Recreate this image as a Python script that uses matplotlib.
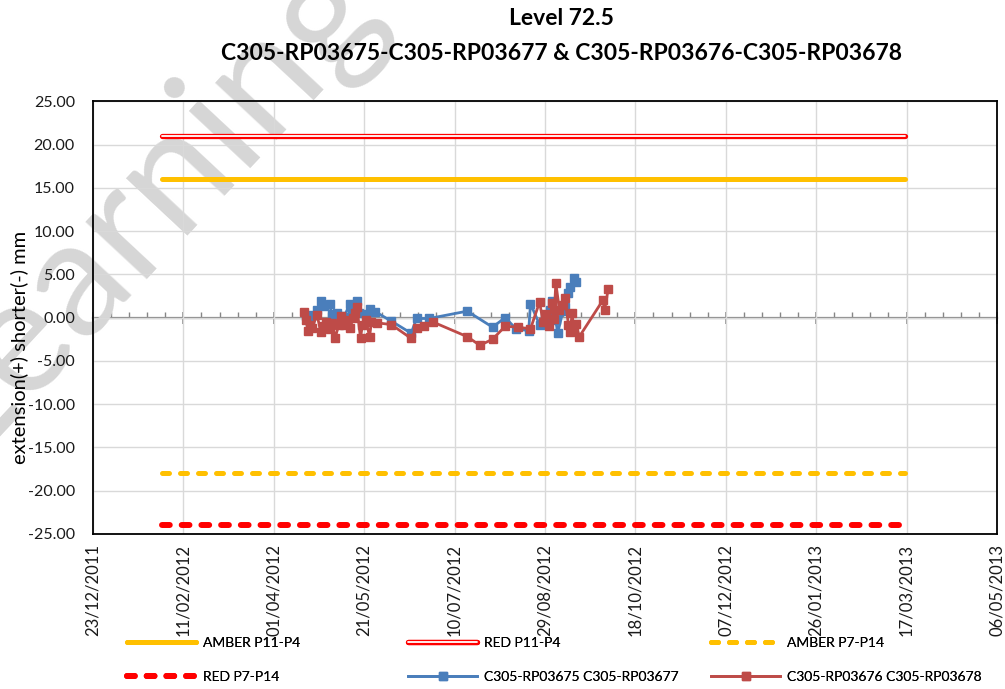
import numpy as np
import matplotlib
matplotlib.use('Agg')
import matplotlib.pyplot as plt
import matplotlib.dates as mdates
import matplotlib.patheffects as pe
from matplotlib.ticker import FixedLocator, NullFormatter, FormatStrFormatter

plt.rcParams['font.family'] = ['Lato', 'DejaVu Sans']

# threshold lines
limit_dates = ['2012-01-30', '2013-03-16']
amber_p11_p4 = [16, 16]
red_p11_p4 = [21, 21]
amber_p7_p14 = [-18, -18]
red_p7_p14 = [-24, -24]

# C305-RP03675 C305-RP03677
blue_dates = ['2012-04-19', '2012-04-21', '2012-04-22', '2012-04-25', '2012-04-27',
              '2012-04-29', '2012-05-02', '2012-05-03', '2012-05-06', '2012-05-08',
              '2012-05-10', '2012-05-13', '2012-05-14', '2012-05-17', '2012-05-18',
              '2012-05-22', '2012-05-24', '2012-05-27', '2012-06-05', '2012-06-16',
              '2012-06-19', '2012-06-26', '2012-07-17', '2012-07-31', '2012-08-07',
              '2012-08-13', '2012-08-20', '2012-08-21', '2012-08-26', '2012-08-29',
              '2012-09-01', '2012-09-02', '2012-09-04', '2012-09-05', '2012-09-08',
              '2012-09-09', '2012-09-11', '2012-09-12', '2012-09-14', '2012-09-15']
blue_vals = [0.2, -0.5, 0.3, 0.9, 1.9,
             1.4, 1.6, 0.4, 0.5, 0.2,
             0.1, 1.6, 0.9, 1.9, 0.5,
             0.4, 1.0, 0.7, -0.4, -1.8,
             -0.1, -0.1, 0.75, -1.1, 0.0,
             -1.3, -1.5, 1.6, -0.8, 0.3,
             0.9, 1.9, -0.3, -1.8, 0.8,
             1.2, 2.8, 3.5, 4.6, 4.1]

# C305-RP03676 C305-RP03678
red_dates = ['2012-04-18', '2012-04-19', '2012-04-20', '2012-04-21', '2012-04-22',
             '2012-04-25', '2012-04-27', '2012-04-28', '2012-04-30', '2012-05-02',
             '2012-05-03', '2012-05-05', '2012-05-07', '2012-05-08', '2012-05-10',
             '2012-05-11', '2012-05-13', '2012-05-15', '2012-05-16', '2012-05-17',
             '2012-05-19', '2012-05-20', '2012-05-22', '2012-05-24', '2012-05-25',
             '2012-05-28', '2012-06-05', '2012-06-16', '2012-06-19', '2012-06-23',
             '2012-06-28', '2012-07-17', '2012-07-24', '2012-07-31', '2012-08-07',
             '2012-08-14', '2012-08-21', '2012-08-26', '2012-08-28', '2012-08-29',
             '2012-08-31', '2012-09-02', '2012-09-03', '2012-09-04', '2012-09-06',
             '2012-09-08', '2012-09-09', '2012-09-11', '2012-09-12', '2012-09-13',
             '2012-09-14', '2012-09-15', '2012-09-17', '2012-09-30', '2012-10-01',
             '2012-10-03']
red_vals = [0.6, -0.3, -1.5, -0.8, -1.2,
            0.3, -1.7, -1.0, -0.5, -1.3,
            -0.6, -2.3, -0.8, 0.2, -0.9,
            -0.3, -1.2, -0.1, 0.5, 1.2,
            -2.4, -0.8, -0.3, -2.2, -0.5,
            -0.6, -0.8, -2.4, -1.2, -1.0,
            -0.5, -2.2, -3.2, -2.5, -1.0,
            -1.1, -1.3, 1.8, -0.5, 0.4,
            -1.0, 1.7, -0.2, 4.0, 0.9,
            1.5, 2.3, -0.8, -1.7, 0.5,
            -1.5, -0.7, -2.2, 2.0, 0.9,
            3.3]

x_start = mdates.date2num(np.datetime64('2011-12-23'))
x_end = mdates.date2num(np.datetime64('2013-05-06'))

fig = plt.figure(figsize=(10.05, 6.89), dpi=100)
ax = fig.add_axes([0.0925, 0.225, 0.8995, 0.628])

ld = np.array(limit_dates, dtype='datetime64[D]')
h_amber11, = ax.plot(ld, amber_p11_p4, color='#FFC000', lw=3.6, solid_capstyle='round',
                     label='AMBER P11-P4', zorder=3)
h_red11, = ax.plot(ld, red_p11_p4, color='white', lw=1.3, solid_capstyle='round',
                   label='RED P11-P4', zorder=3,
                   path_effects=[pe.Stroke(linewidth=3.8, foreground='#FF0000'), pe.Normal()])
h_amber7, = ax.plot(ld, amber_p7_p14, color='#FFC000', lw=3.6, dashes=(1.4, 2.2),
                    dash_capstyle='round', label='AMBER P7-P14', zorder=3)
h_red7, = ax.plot(ld, red_p7_p14, color='#FF0000', lw=4.3, dashes=(1.3, 2.0),
                  dash_capstyle='round', label='RED P7-P14', zorder=3)

h_blue, = ax.plot(np.array(blue_dates, dtype='datetime64[D]'), blue_vals, color='#4A7EBB',
                  lw=2.0, marker='s', ms=5.5, label='C305-RP03675 C305-RP03677', zorder=4)
h_brown, = ax.plot(np.array(red_dates, dtype='datetime64[D]'), red_vals, color='#BE4B48',
                   lw=2.0, marker='s', ms=5.5, label='C305-RP03676 C305-RP03678', zorder=5)

ax.set_xlim(x_start, x_end)
ax.set_ylim(-25, 25)
major = np.arange(x_start, x_end + 1, 50)
minor = np.arange(x_start, x_end + 1, 10)
ax.set_xticks(major)
ax.xaxis.set_major_formatter(mdates.DateFormatter('%d/%m/%Y'))
ax.set_yticks(np.arange(-25, 26, 5))
ax.yaxis.set_major_formatter(FormatStrFormatter('%.2f'))
ax.tick_params(axis='x', labelrotation=90, length=0, labelsize=12, pad=7, colors='#1a1a1a')
ax.tick_params(axis='y', length=0, labelsize=11.5, pad=13, colors='#1a1a1a')
ax.grid(True, color='#d9d9d9', lw=1)
ax.set_axisbelow('line')
for s in ax.spines.values():
    s.set_color('black')
    s.set_linewidth(1.3)

# zero axis with tick marks
zero_ax = ax.secondary_xaxis(0.5)
zero_ax.xaxis.set_major_locator(FixedLocator(major))
zero_ax.xaxis.set_minor_locator(FixedLocator(minor))
zero_ax.xaxis.set_major_formatter(NullFormatter())
zero_ax.xaxis.set_minor_formatter(NullFormatter())
zero_ax.spines['top'].set_color('#868686')
zero_ax.spines['top'].set_linewidth(1.6)
zero_ax.tick_params(which='major', direction='inout', length=9, width=1.2, color='#868686')
zero_ax.tick_params(which='minor', direction='out', length=4, width=1.0, color='#868686')

ax.set_ylabel('extension(+) shorter(-) mm', fontsize=14.5)
ax.yaxis.set_label_coords(-0.072, 0.43)

fig.text(0.559, 0.973, 'Level 72.5', ha='center', va='center', fontsize=16.5, fontweight='bold')
fig.text(0.559, 0.923, 'C305-RP03675-C305-RP03677 & C305-RP03676-C305-RP03678',
         ha='center', va='center', fontsize=16.5, fontweight='bold')

# legend, three columns placed separately
columns = [([h_amber11, h_red7], 127), ([h_red11, h_blue], 408), ([h_amber7, h_brown], 711)]
for hs, xpix in columns:
    leg = fig.legend(handles=hs, labels=[h.get_label() for h in hs], ncol=1,
                     loc='center left', bbox_to_anchor=(xpix / 1005, 1 - 660 / 689),
                     frameon=False, fontsize=10, handlelength=5.0, labelspacing=1.6,
                     handletextpad=0.5, borderpad=0, borderaxespad=0)
    fig.add_artist(leg)

# watermark, under the data lines and labels
ax.text(0.14, 0.705, 'Learning', transform=fig.transFigure, rotation=47,
        rotation_mode='anchor', fontsize=118, color='#d6d6d6', ha='center', va='center',
        zorder=1.2, clip_on=False)

fig.savefig('out.png', dpi=100)
